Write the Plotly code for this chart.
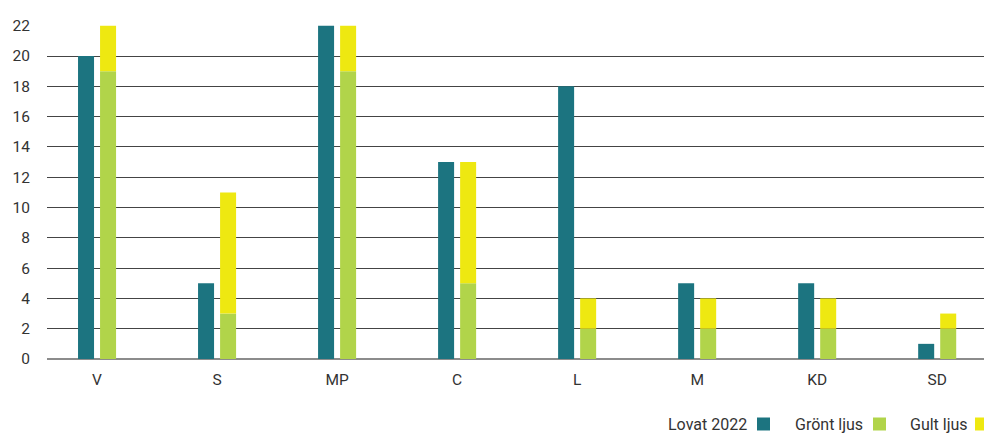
import plotly.graph_objects as go

categories = ["V", "S", "MP", "C", "L", "M", "KD", "SD"]
lovat_2022 = [20, 5, 22, 13, 18, 5, 5, 1]
gront_ljus = [19, 3, 19, 5, 2, 2, 2, 2]
gult_ljus = [3, 8, 3, 8, 2, 2, 2, 1]
y_ticks = [0, 2, 4, 6, 8, 10, 12, 14, 16, 18, 20, 22]

TEAL = "#1c7480"
GREEN = "#b1d44a"
YELLOW = "#eee811"
FAMILY = "Roboto, Noto Sans, sans-serif"
TICKFONT = dict(family=FAMILY, size=15.5, color="#333333")
LEGFONT = dict(family=FAMILY, size=16, color="#333333")

fig = go.Figure()
fig.add_trace(go.Bar(x=categories, y=lovat_2022, name="Lovat 2022",
                     marker=dict(color=TEAL, line=dict(width=0)), offsetgroup="a"))
fig.add_trace(go.Bar(x=categories, y=gront_ljus, name="Grönt ljus",
                     marker=dict(color=GREEN, line=dict(width=0)), offsetgroup="b"))
fig.add_trace(go.Bar(x=categories, y=gult_ljus, base=gront_ljus, name="Gult ljus",
                     marker=dict(color=YELLOW, line=dict(width=0)), offsetgroup="b"))

W, H = 984, 433
L, R, T, B = 47, 0, 25, 74
pw, ph = W - L - R, H - T - B

def px_x(p):
    return (p - L) / pw

def px_y(p):
    return (H - B - p) / ph

legend_items = [("Lovat 2022", TEAL, 749, 757), ("Grönt ljus", GREEN, 865, 873), ("Gult ljus", YELLOW, 970, 975)]
ly = 424
for text, col, text_right, sq_left in legend_items:
    fig.add_annotation(text=text, x=px_x(text_right), y=px_y(ly), xref="paper", yref="paper",
                       xanchor="right", yanchor="middle", showarrow=False, font=LEGFONT)
    fig.add_shape(type="rect", xref="paper", yref="paper",
                  x0=px_x(sq_left), x1=px_x(sq_left + 13), y0=px_y(ly + 6.5), y1=px_y(ly - 6.5),
                  fillcolor=col, line=dict(width=0))

fig.update_layout(
    width=W, height=H,
    margin=dict(l=L, r=R, t=T, b=B),
    barmode="group", bargap=0.633, bargroupgap=0.273,
    plot_bgcolor="white", paper_bgcolor="white",
    showlegend=False,
    font=TICKFONT,
    xaxis=dict(type="category", range=[-0.417, 7.39], showgrid=False, showline=False,
               ticks="", tickfont=TICKFONT, ticklabelstandoff=9),
    yaxis=dict(range=[0, 22.05], tickvals=y_ticks, showgrid=True, gridcolor="#444444",
               gridwidth=1, zeroline=True, zerolinecolor="#8c8c8c", zerolinewidth=2,
               showline=False, ticks="", tickfont=TICKFONT, ticklabelstandoff=16),
)

fig.write_html("out.html", config={"displayModeBar": False},
               post_script="document.body.style.margin='0';document.body.style.overflow='hidden';")
